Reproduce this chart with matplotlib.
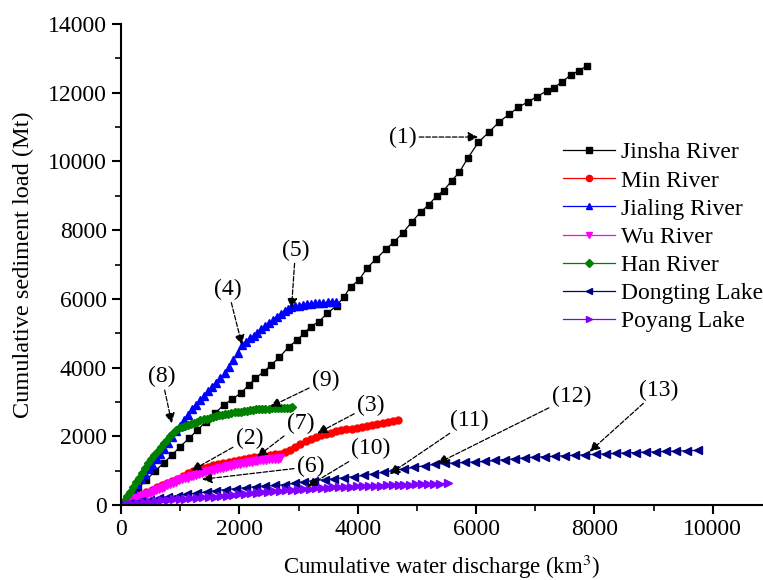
import matplotlib
matplotlib.use('Agg')
import matplotlib.pyplot as plt

plt.rcParams['font.family'] = ['Liberation Serif', 'DejaVu Serif']
plt.rcParams['mathtext.fontset'] = 'stix'
plt.rcParams['font.size'] = 16

# cumulative water discharge (km3) and sediment load (Mt)
jinsha_x = [0, 140, 290, 430, 570, 720, 860, 1000, 1150, 1290, 1440, 1590, 1734, 1876, 2034, 2158,
            2271, 2412, 2537, 2678, 2836, 2978, 3090, 3203, 3344, 3486, 3644, 3768, 3881, 4022, 4164,
            4305, 4475, 4615, 4758, 4910, 5068, 5198, 5339, 5453, 5588, 5717, 5859, 6039, 6225, 6395,
            6564, 6717, 6876, 7029, 7198, 7310, 7446, 7598, 7741, 7876]
jinsha_y = [0, 240, 490, 730, 980, 1220, 1450, 1700, 1940, 2180, 2430, 2670, 2910, 3076, 3268, 3492,
            3687, 3880, 4074, 4300, 4607, 4802, 4997, 5189, 5335, 5579, 5800, 6062, 6353, 6548, 6906,
            7151, 7442, 7663, 7907, 8228, 8536, 8731, 9002, 9147, 9438, 9683, 10090, 10556, 10864, 11155,
            11379, 11574, 11737, 11883, 12058, 12145, 12302, 12515, 12640, 12785]

min_x = [0, 85, 170, 260, 345, 430, 520, 605, 690, 780, 865, 950, 1040, 1125, 1210, 1300, 1385, 1470,
         1560, 1645, 1730, 1820, 1905, 1990, 2080, 2165, 2250, 2340, 2425, 2510, 2600, 2685, 2770, 2860,
         2945, 3030, 3120, 3205, 3290, 3380, 3465, 3550, 3640, 3725, 3810, 3900, 3985, 4070, 4160, 4245,
         4330, 4420, 4505, 4590, 4680]
min_y = [0, 70, 145, 220, 295, 365, 440, 510, 580, 650, 700, 770, 850, 930, 1000, 1040, 1080, 1120,
         1150, 1180, 1210, 1240, 1270, 1300, 1330, 1360, 1390, 1410, 1430, 1450, 1470, 1490, 1530, 1600,
         1700, 1790, 1860, 1920, 1990, 2030, 2060, 2100, 2140, 2170, 2200, 2220, 2250, 2270, 2300, 2330,
         2360, 2390, 2420, 2450, 2480]

jialing_x = [0, 70, 135, 200, 268, 330, 400, 465, 530, 600, 665, 730, 800, 870, 935, 1000, 1070, 1140,
             1200, 1265, 1335, 1400, 1470, 1537, 1600, 1670, 1763, 1830, 1900, 1975, 2045,
             2110, 2175, 2240, 2305, 2370, 2440, 2505, 2570, 2640, 2700, 2770, 2830, 2876,
             2940, 3010, 3075, 3140, 3210, 3280, 3350, 3420, 3490, 3560, 3627]
jialing_y = [0, 170, 330, 470, 620, 760, 900, 1050, 1180, 1340, 1480, 1630, 1800, 1980, 2150, 2300, 2470, 2630,
             2780, 2920, 3060, 3180, 3310, 3443, 3560, 3690, 3833, 4020, 4220, 4430, 4650,
             4740, 4850, 4930, 5020, 5120, 5210, 5300, 5380, 5460, 5560, 5640, 5710, 5771,
             5790, 5805, 5830, 5845, 5858, 5870, 5880, 5893, 5900, 5910, 5920]

wu_x = [0, 50, 100, 150, 195, 245, 295, 345, 395, 440, 490, 540, 590, 640, 690, 735, 785, 835, 885, 935,
        980, 1030, 1080, 1130, 1180, 1225, 1275, 1325, 1375, 1425, 1475, 1520, 1570, 1620, 1670, 1720,
        1770, 1815, 1865, 1915, 1965, 2015, 2060, 2110, 2160, 2210, 2260, 2305, 2355, 2405, 2455, 2505,
        2550, 2600, 2650, 2695]
wu_y = [0, 35, 70, 105, 140, 175, 210, 250, 285, 320, 355, 390, 430, 465, 500, 535, 570, 605, 640, 680,
        715, 745, 775, 800, 830, 855, 880, 905, 930, 955, 980, 1000, 1025, 1050, 1070, 1090,
        1110, 1130, 1145, 1165, 1180, 1200, 1215, 1230, 1250, 1265, 1280, 1290, 1300, 1310, 1320, 1330,
        1338, 1345, 1352, 1358]

han_x = [0, 45, 95, 150, 200, 255, 300, 350, 410, 460, 510, 560, 620, 670, 720, 770, 820, 870, 925, 975,
         1030, 1080, 1130, 1185, 1240, 1290, 1340, 1395, 1450, 1500, 1550, 1605, 1660, 1710, 1760, 1810,
         1865, 1920, 1970, 2020, 2075, 2130, 2180, 2230, 2285, 2340, 2390, 2440, 2495, 2550, 2600, 2650,
         2705, 2760, 2810, 2850, 2890]
han_y = [0, 120, 250, 390, 520, 680, 800, 930, 1080, 1210, 1330, 1450, 1560, 1680, 1800, 1900, 2000, 2080,
         2170, 2230, 2270, 2300, 2335, 2370, 2400, 2430, 2460, 2490, 2510, 2540, 2560, 2590, 2610, 2630,
         2650, 2660, 2680, 2700, 2710, 2720, 2740, 2750, 2760, 2770, 2780, 2790, 2795, 2800, 2805, 2810,
         2815, 2820, 2825, 2830, 2830, 2835, 2840]

dongting_x = [0, 160, 330, 490, 640, 800, 960, 1120, 1290, 1450, 1610, 1780, 1950, 2110, 2280, 2440,
              2610, 2770, 2940, 3100, 3270, 3440, 3600, 3770, 3940, 4110, 4280, 4450, 4620, 4790, 4960,
              5130, 5300, 5470, 5640, 5810, 5980, 6150, 6320, 6490, 6660, 6830, 7000, 7170, 7340, 7510,
              7680, 7850, 8020, 8190, 8360, 8530, 8700, 8870, 9040, 9210, 9380, 9560, 9757]
dongting_y = [0, 50, 105, 153, 192, 233, 274, 312, 348, 383, 420, 450, 478, 506, 530, 548,
              568, 592, 638, 680, 713, 738, 760, 795, 828, 862, 910, 958, 1006, 1054, 1098,
              1142, 1186, 1210, 1224, 1238, 1252, 1270, 1296, 1320, 1346, 1372, 1393, 1406, 1420, 1434,
              1448, 1461, 1475, 1488, 1502, 1516, 1528, 1538, 1549, 1559, 1569, 1579, 1590]

poyang_x = [0, 95, 190, 290, 390, 490, 590, 690, 790, 890, 990, 1090, 1190, 1290, 1390, 1490, 1590,
            1690, 1790, 1890, 1990, 2090, 2190, 2290, 2390, 2490, 2590, 2690, 2790, 2890, 2990, 3090,
            3190, 3290, 3390, 3490, 3590, 3690, 3790, 3890, 3990, 4090, 4190, 4290, 4390, 4490, 4590,
            4690, 4790, 4890, 4990, 5090, 5190, 5290, 5390, 5520]
poyang_y = [0, 19, 38, 58, 77, 97, 116, 135, 151, 163, 174, 186, 197, 209, 220, 232, 243,
            259, 275, 291, 307, 323, 339, 353, 367, 381, 395, 409, 423, 437, 450, 462,
            472, 482, 492, 502, 513, 520, 527, 534, 541, 548, 555, 561, 566, 572, 578,
            584, 590, 595, 601, 607, 613, 618, 624, 631]

# (label, label position, arrow tip)
notes = [
    ('(1)', (4760, 10710), (6034, 10710)),
    ('(2)', (2170, 1950), (1190, 1000)),
    ('(3)', (4220, 2910), (3317, 2087)),
    ('(4)', (1808, 6278), (2045, 4657)),
    ('(5)', (2949, 7421), (2881, 5725)),
    ('(6)', (3203, 1115), (1367, 747)),
    ('(7)', (3034, 2378), (2300, 1406)),
    ('(8)', (689, 3734), (859, 2378)),
    ('(9)', (3458, 3638), (2525, 2861)),
    ('(10)', (4220, 1650), (3147, 533)),
    ('(11)', (5887, 2474), (4540, 900)),
    ('(12)', (7610, 3153), (5350, 1213)),
    ('(13)', (9079, 3347), (7920, 1552)),
]

fig = plt.figure(figsize=(7.63, 5.80), dpi=100)
ax = fig.add_axes([121/763, 75/580, 642/763, 481/580])

lw = 0.9
ax.plot(jinsha_x, jinsha_y, color='black', marker='s', ms=4.5, lw=lw, label='Jinsha River')
ax.plot(min_x, min_y, color='#ff0000', marker='o', ms=5, lw=lw, label='Min River')
ax.plot(jialing_x, jialing_y, color='#0000ff', marker='^', ms=5.5, lw=lw, label='Jialing River')
ax.plot(wu_x, wu_y, color='#ff00ff', marker='v', ms=5.5, lw=lw, label='Wu River')
ax.plot(han_x, han_y, color='#008000', marker='D', ms=4.5, lw=lw, label='Han River')
ax.plot(dongting_x, dongting_y, color='#000080', marker='<', ms=5.5, lw=lw, label='Dongting Lake')
ax.plot(poyang_x, poyang_y, color='#8000ff', marker='>', ms=5.5, lw=lw, label='Poyang Lake')

for txt, xy_text, xy_tip in notes:
    ax.annotate(txt, xy=xy_tip, xytext=xy_text, ha='center', va='center', fontsize=17,
                arrowprops=dict(arrowstyle='-|>', ls='--', lw=0.9, color='black',
                                mutation_scale=15, shrinkA=0, shrinkB=0))

ax.set_xlim(0, 10850)
ax.set_ylim(0, 14000)
ax.set_xticks([0, 2000, 4000, 6000, 8000, 10000])
ax.set_xticks(range(1000, 11000, 2000), minor=True)
ax.set_yticks(range(0, 14001, 2000))
ax.set_yticks(range(1000, 14000, 2000), minor=True)
ax.spines['top'].set_visible(False)
ax.spines['right'].set_visible(False)
ax.spines['left'].set_linewidth(1.5)
ax.spines['bottom'].set_linewidth(1.5)
ax.tick_params(which='major', direction='out', length=6.5, width=1.5, labelsize=17)
ax.tick_params(which='minor', direction='out', length=4, width=1.2)

ax.set_xlabel('Cumulative water discharge (km$^3$)', fontsize=16.5, labelpad=9)
ax.set_ylabel('Cumulative sediment load (Mt)', fontsize=17.5, labelpad=10)

ax.legend(loc='upper left', bbox_to_anchor=(0.688, 0.755), frameon=False, fontsize=17,
          borderpad=0, borderaxespad=0, handlelength=2.2, handletextpad=0.25, labelspacing=0.28,
          markerscale=0.9)

fig.savefig('out.png', dpi=100)
